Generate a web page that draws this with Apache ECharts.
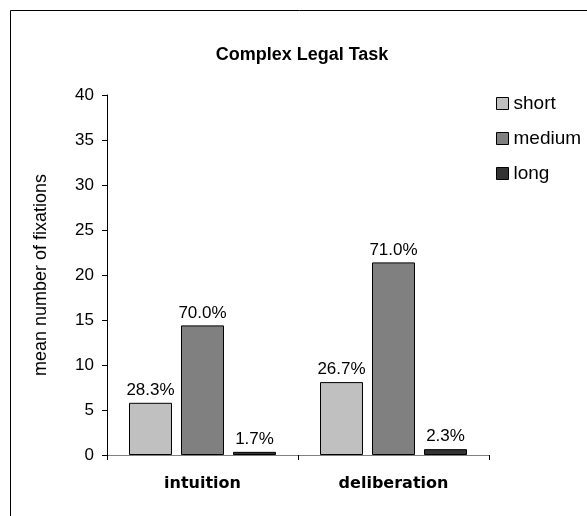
<!DOCTYPE html>
<html>
<head>
<meta charset="utf-8">
<script src="https://cdn.jsdelivr.net/npm/echarts@6/dist/echarts.min.js"></script>
<style>html,body{margin:0;padding:0;background:#fff}#c{width:587px;height:516px}</style>
</head>
<body>
<div id="c"></div>
<script>
const categories = ['intuition', 'deliberation'];
const seriesNames = ['short', 'medium', 'long'];
const shortValues = [5.8, 8.1];
const mediumValues = [14.4, 21.4];
const longValues = [0.35, 0.65];
const shortPct = ['28.3%', '26.7%'];
const mediumPct = ['70.0%', '71.0%'];
const longPct = ['1.7%', '2.3%'];
const yTicks = [0, 5, 10, 15, 20, 25, 30, 35, 40];

const colors = ['#c0c0c0', '#808080', '#333333'];
const valuesList = [shortValues, mediumValues, longValues];
const pctList = [shortPct, mediumPct, longPct];
const FONT = 'Liberation Sans, Arial, sans-serif';

const chart = echarts.init(document.getElementById('c'), null, {renderer: 'canvas'});
chart.setOption({
  animation: false,
  backgroundColor: '#fff',
  title: {
    text: 'Complex Legal Task',
    left: 297, top: 41, textAlign: 'center',
    textStyle: {fontFamily: FONT, fontSize: 18, fontWeight: 'bold', color: '#000'}
  },
  graphic: [{
    type: 'rect', left: 8, top: 8,
    shape: {width: 640, height: 560},
    style: {fill: 'none', stroke: '#000', lineWidth: 1}
  }],
  legend: {
    orient: 'vertical', left: 491, top: 89,
    itemWidth: 12, itemHeight: 12, itemGap: 16,
    icon: 'rect',
    textStyle: {fontFamily: FONT, fontSize: 19, lineHeight: 19, color: '#000'},
    itemStyle: {borderColor: '#000', borderWidth: 1},
    data: seriesNames
  },
  grid: {left: 107, right: 98, top: 95, bottom: 61},
  xAxis: {
    type: 'category', data: categories,
    axisLine: {lineStyle: {color: '#808080', width: 1}},
    axisTick: {show: true, length: 5, lineStyle: {color: '#000'}},
    axisLabel: {fontFamily: 'DejaVu Sans, Verdana, sans-serif', fontSize: 16, fontWeight: 'bold', color: '#000', margin: 21}
  },
  yAxis: {
    type: 'value', min: yTicks[0], max: yTicks[yTicks.length - 1], interval: 5,
    name: 'mean number of fixations', nameLocation: 'middle', nameGap: 57, nameRotate: 90,
    nameTextStyle: {fontFamily: FONT, fontSize: 18, color: '#000'},
    axisLine: {show: true, lineStyle: {color: '#000', width: 1}},
    axisTick: {show: true, length: 5, lineStyle: {color: '#000'}},
    axisLabel: {fontFamily: FONT, fontSize: 17, color: '#000', margin: 13},
    splitLine: {show: false}
  },
  series: seriesNames.map((n, i) => ({
    name: n, type: 'bar', data: valuesList[i],
    barWidth: '22.5%', barGap: '21%',
    itemStyle: {color: colors[i], borderColor: '#000', borderWidth: 1},
    label: {
      show: true, position: 'top', distance: 4,
      fontFamily: FONT, fontSize: 17, color: '#000',
      formatter: p => pctList[i][p.dataIndex]
    }
  }))
});
</script>
</body>
</html>
